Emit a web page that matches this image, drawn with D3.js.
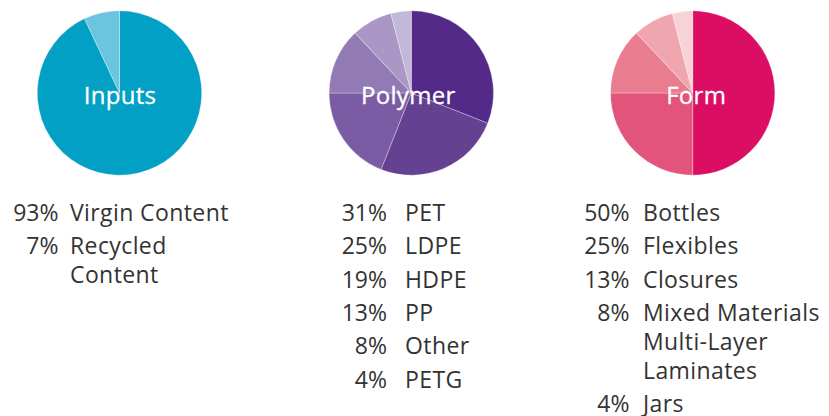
<!DOCTYPE html>
<html>
<head>
<meta charset="utf-8">
<script src="https://cdn.jsdelivr.net/npm/d3@7"></script>
<style>
  html, body { margin: 0; padding: 0; background: #fff; }
  svg { display: block; font-family: "Open Sans", "Noto Sans", sans-serif; }
</style>
</head>
<body>
<svg id="chart" width="829" height="416"></svg>
<script>
// ---- Data ----
const chartTitles = ["Inputs", "Polymer", "Form"];

const inputsCategories = ["Virgin Content", "Recycled Content"];
const inputsValues = [93, 7];

const polymerCategories = ["PET", "LDPE", "HDPE", "PP", "Other", "PETG"];
const polymerValues = [31, 25, 19, 13, 8, 4];

const formCategories = ["Bottles", "Flexibles", "Closures", "Mixed Materials Multi-Layer Laminates", "Jars"];
const formValues = [50, 25, 13, 8, 4];

const inputsColors = ["#03a0c5", "#6cc5e0"];
const polymerColors = ["#532a87", "#654192", "#7b5ca4", "#927ab5", "#aa97c6", "#c4b8da"];
const formColors = ["#db0e63", "#e2547b", "#e97d8f", "#efa6ae", "#f7d3d7"];

// ---- Layout ----
const groups = [
  { title: chartTitles[0], cats: inputsCategories, vals: inputsValues, colors: inputsColors, cx: 119.5, tdx: 0.5, pctX: 58.5, labX: 70 },
  { title: chartTitles[1], cats: polymerCategories, vals: polymerValues, colors: polymerColors, cx: 411.3, tdx: -3, pctX: 387, labX: 405 },
  { title: chartTitles[2], cats: formCategories, vals: formValues, colors: formColors, cx: 692.7, tdx: 3.5, pctX: 629.5, labX: 643 }
];
const cy = 93, radius = 82.2;
const firstBaseline = 221, itemGap = 33.3, wrapGap = 29, wrapWidth = 182;

const svg = d3.select("#chart");
const pie = d3.pie().sort(null).value(d => d);
const arc = d3.arc().innerRadius(0).outerRadius(radius);

groups.forEach(g => {
  const color = d3.scaleOrdinal().domain(g.cats).range(g.colors);
  const gp = svg.append("g").attr("transform", `translate(${g.cx},${cy})`);
  const arcs = pie(g.vals);
  gp.selectAll("path").data(arcs).enter().append("path")
    .attr("d", arc)
    .attr("fill", (d, i) => color(g.cats[i]))
    .attr("stroke", "rgba(255,255,255,0.5)")
    .attr("stroke-width", 0.6);
  gp.append("text")
    .attr("x", g.tdx).attr("y", 11)
    .attr("text-anchor", "middle")
    .attr("fill", "#fff")
    .attr("font-size", 24)
    .attr("letter-spacing", 0.3)
    .attr("stroke", "#fff")
    .attr("stroke-width", 0.3)
    .text(g.title);

  // legend
  let y = firstBaseline;
  g.cats.forEach((cat, i) => {
    svg.append("text")
      .attr("x", g.pctX).attr("y", y)
      .attr("text-anchor", "end")
      .attr("fill", "#333")
      .attr("font-size", 23)
      .text(g.vals[i] + "%");
    const t = svg.append("text")
      .attr("x", g.labX).attr("y", y)
      .attr("fill", "#333")
      .attr("font-size", 23)
      .attr("letter-spacing", 0.4);
    const words = cat.split(" ");
    let line = [];
    let lineNo = 0;
    let tspan = t.append("tspan").attr("x", g.labX).attr("y", y);
    words.forEach(w => {
      line.push(w);
      tspan.text(line.join(" "));
      if (tspan.node().getComputedTextLength() > wrapWidth && line.length > 1) {
        line.pop();
        tspan.text(line.join(" "));
        line = [w];
        lineNo++;
        tspan = t.append("tspan").attr("x", g.labX).attr("y", y + lineNo * wrapGap).text(w);
      }
    });
    y += lineNo * wrapGap + itemGap;
  });
});
</script>
</body>
</html>
